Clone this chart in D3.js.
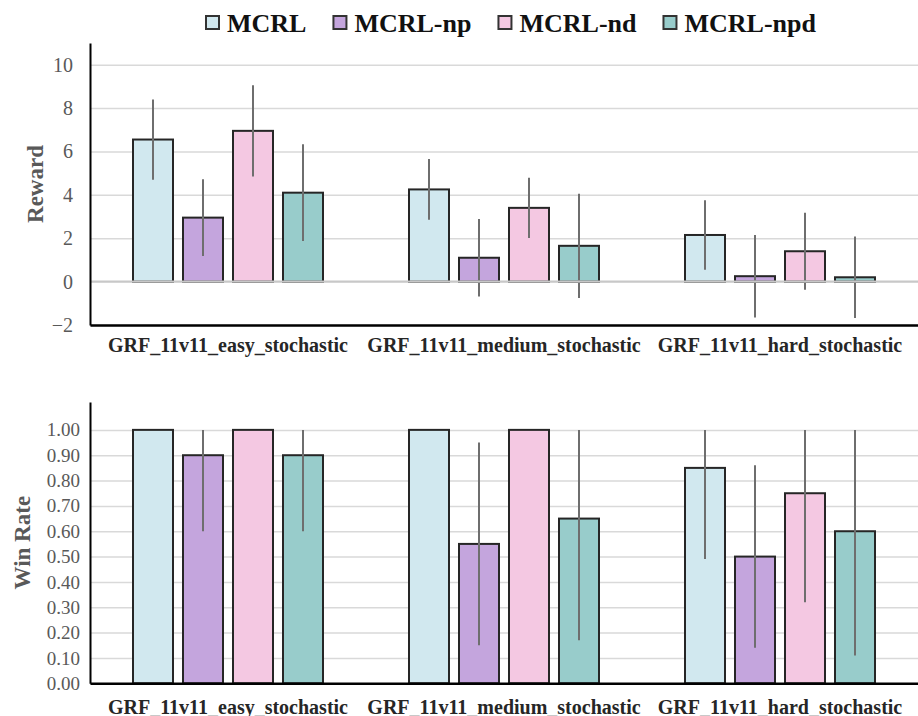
<!DOCTYPE html>
<html>
<head>
<meta charset="utf-8">
<script src="https://cdn.jsdelivr.net/npm/d3@7"></script>
<style>
	body { margin: 0; background: #fff; }
	svg, svg text { font-family: "Times New Roman", "Liberation Serif", "DejaVu Serif", serif; }
</style>
</head>
<body>
<div id="app"></div>
<script>
//////////////////////////// data /////////////////////////////////////////

const categories = [
	"GRF_11v11_easy_stochastic",
	"GRF_11v11_medium_stochastic",
	"GRF_11v11_hard_stochastic"
];
const series = ["MCRL", "MCRL-np", "MCRL-nd", "MCRL-npd"];
const colors = ["#d1e8ef", "#c4a5dd", "#f4c8e2", "#98cccb"];

// reward: mean and +/- error, one row per category
const rewardMean = [
	[6.55, 2.95, 6.95, 4.1],
	[4.25, 1.1, 3.4, 1.65],
	[2.15, 0.25, 1.4, 0.2]
];
const rewardErr = [
	[1.85, 1.77, 2.1, 2.23],
	[1.4, 1.79, 1.39, 2.4],
	[1.6, 1.9, 1.78, 1.88]
];

// win rate: value with lower / upper end of the error bar (null = none)
const winRate = [
	[1.0, 0.9, 1.0, 0.9],
	[1.0, 0.55, 1.0, 0.65],
	[0.85, 0.5, 0.75, 0.6]
];
const winLow = [
	[null, 0.6, null, 0.6],
	[null, 0.15, null, 0.17],
	[0.49, 0.14, 0.32, 0.11]
];
const winHigh = [
	[null, 1.0, null, 1.0],
	[null, 0.95, null, 1.0],
	[1.0, 0.86, 1.0, 1.0]
];

const rewardTicks = [-2, 0, 2, 4, 6, 8, 10];
const winTicks = [0, 0.1, 0.2, 0.3, 0.4, 0.5, 0.6, 0.7, 0.8, 0.9, 1.0];

//////////////////////////// set up svg //////////////////////////////////

const width = 918;
const height = 716;
const fontFamily = '"Times New Roman", "Liberation Serif", "DejaVu Serif", serif';
const svg = d3.select("#app").append("svg").attr("width", width).attr("height", height);

const x0 = d3.scaleBand().domain(categories).range([90, 918]).padding(0);
const x1 = d3
	.scaleBand()
	.domain(series)
	.range([0, x0.bandwidth()])
	.paddingInner(0.2)
	.paddingOuter(0.86);
const cScale = d3.scaleOrdinal().domain(series).range(colors);

///////////////////////////////////////////////////////////////////////////
//////////////////////////// panel ////////////////////////////////////////
///////////////////////////////////////////////////////////////////////////

const drawPanel = (cfg) => {
	const g = svg.append("g");
	const y = d3.scaleLinear().domain(cfg.domain).range(cfg.range);
	const [left, right] = x0.range();

	// gridlines
	g.append("g")
		.attr("transform", `translate(${left},0)`)
		.call(d3.axisLeft(y).tickValues(cfg.ticks).tickSize(-(right - left)).tickFormat(""))
		.call((a) => a.select(".domain").remove())
		.selectAll("line")
		.attr("stroke", "#d9d9d9")
		.attr("stroke-width", 1.5);

	// rows of bars
	const rows = cfg.values.flatMap((row, i) =>
		row.map((v, j) => ({
			cat: categories[i],
			key: series[j],
			value: v,
			lo: cfg.lo(i, j),
			hi: cfg.hi(i, j)
		}))
	);

	const bars = g
		.selectAll(".bar")
		.data(rows)
		.join("g")
		.attr("class", "bar")
		.attr("transform", (d) => `translate(${x0(d.cat) + x1(d.key)},0)`);

	bars
		.append("rect")
		.attr("x", 0)
		.attr("width", x1.bandwidth())
		.attr("y", (d) => y(d.value))
		.attr("height", (d) => y(0) - y(d.value))
		.attr("fill", (d) => cScale(d.key))
		.attr("stroke", "#262626")
		.attr("stroke-width", 2);

	// zero line over the bar bottoms
	if (cfg.domain[0] < 0) {
		g.append("line")
			.attr("x1", left)
			.attr("x2", right)
			.attr("y1", y(0))
			.attr("y2", y(0))
			.attr("stroke", "#c8c8c8")
			.attr("stroke-width", 2);
	}

	// error bars
	bars
		.filter((d) => d.lo !== null)
		.append("line")
		.attr("x1", x1.bandwidth() / 2)
		.attr("x2", x1.bandwidth() / 2)
		.attr("y1", (d) => y(d.lo))
		.attr("y2", (d) => y(d.hi))
		.attr("stroke", "#6e6e6e")
		.attr("stroke-width", 2);

	// y axis
	const yAxis = g
		.append("g")
		.attr("transform", `translate(${left},0)`)
		.call(
			d3.axisLeft(y)
				.tickValues(cfg.ticks)
				.tickFormat(cfg.format)
				.tickSize(0)
				.tickSizeOuter(0)
				.tickPadding(cfg.tickPadding)
		)
		.attr("font-family", fontFamily);
	yAxis.select(".domain").attr("stroke", "#000").attr("stroke-width", 2);
	yAxis
		.selectAll("text")
		.attr("fill", "#595959")
		.style("font-size", cfg.tickFont + "px");

	// x axis
	const xAxis = g
		.append("g")
		.attr("transform", `translate(0,${cfg.range[0]})`)
		.call(d3.axisBottom(x0).tickSize(0).tickSizeOuter(0))
		.attr("font-family", fontFamily);
	xAxis.select(".domain").attr("stroke", "#000").attr("stroke-width", 2.5);
	xAxis
		.selectAll("text")
		.attr("y", cfg.labelOffset)
		.attr("dy", 0)
		.attr("fill", "#262626")
		.style("font-size", "20px")
		.style("font-weight", "bold");

	// axis title
	g.append("text")
		.attr("transform", `translate(${cfg.titleX},${(cfg.range[0] + cfg.range[1]) / 2}) rotate(-90)`)
		.attr("text-anchor", "middle")
		.attr("fill", "#595959")
		.style("font-size", "23px")
		.style("font-weight", "bold")
		.text(cfg.title);
};

//////////////////////////// reward ///////////////////////////////////////

drawPanel({
	values: rewardMean,
	lo: (i, j) => rewardMean[i][j] - rewardErr[i][j],
	hi: (i, j) => rewardMean[i][j] + rewardErr[i][j],
	domain: [-2, 11],
	range: [325, 43],
	ticks: rewardTicks,
	format: d3.format("d"),
	tickPadding: 17,
	tickFont: 20,
	labelOffset: 27,
	title: "Reward",
	titleX: 43
});

//////////////////////////// win rate /////////////////////////////////////

drawPanel({
	values: winRate,
	lo: (i, j) => winLow[i][j],
	hi: (i, j) => winHigh[i][j],
	domain: [0, 1.11],
	range: [683.3, 402],
	ticks: winTicks,
	format: d3.format(".2f"),
	tickPadding: 10,
	tickFont: 19,
	labelOffset: 30.5,
	title: "Win Rate",
	titleX: 30
});

//////////////////////////// legend ///////////////////////////////////////

const legend = svg.append("g").attr("class", "legend");
let lx = 205;
series.forEach((s, i) => {
	const item = legend.append("g").attr("transform", `translate(${lx},0)`);
	item.append("rect")
		.attr("x", 1)
		.attr("y", 16)
		.attr("width", 13)
		.attr("height", 13)
		.attr("fill", colors[i])
		.attr("stroke", "#333")
		.attr("stroke-width", 2);
	const t = item
		.append("text")
		.attr("x", 22)
		.attr("y", 32)
		.attr("fill", "#111")
		.style("font-size", "26px")
		.style("font-weight", "bold")
		.text(s);
	lx += 22 + t.node().getComputedTextLength() + 26;
});
</script>
</body>
</html>
